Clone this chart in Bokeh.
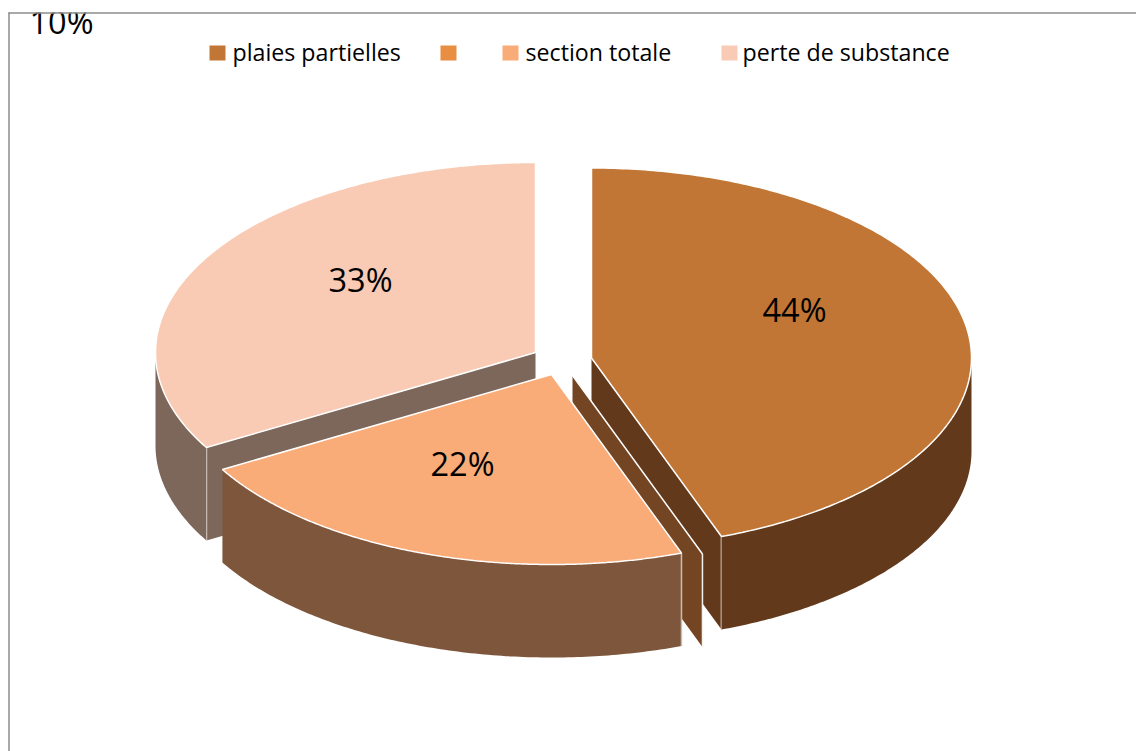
import numpy as np
from bokeh.plotting import figure
from bokeh.embed import file_html
from bokeh.resources import INLINE
from bokeh.core.properties import value

# ---- data ----
categories = ["plaies partielles", "", "section totale", "perte de substance"]
values = [44, 0, 22, 33]
labels = ["44%", "10%", "22%", "33%"]
top_colors = ["#C27635", "#E88E42", "#F9AB78", "#F9CBB5"]
wall_colors = ["#63391C", "#744522", "#7D563B", "#7C675A"]

# ---- layout ----
W, H = 1136, 751
RX, RY, DEPTH = 380, 190, 93
apex = [(591, 357.5), (572, 375), (551, 374), (535, 352)]
label_xy = [(794, 309), (61, 21), (462, 463), (360, 279)]
legend_sq_x = [209, 440, 502, 721]
legend_tx_x = [232, None, 525, 742]
draw_order = [3, 0, 1, 2]
SANS = "Open Sans"

p = figure(width=W, height=H, x_range=(0, W), y_range=(H, 0),
           output_backend="svg", toolbar_location=None, min_border=0,
           outline_line_color=None, background_fill_color="white")
p.axis.visible = False
p.grid.visible = False

total = sum(values)
cum = np.cumsum([0] + values) / total * 2 * np.pi


def ell(c, t):
    return c[0] + RX * np.sin(t), c[1] - RY * np.cos(t)


for i in draw_order:
    c = apex[i]
    t0, t1 = cum[i], cum[i + 1]
    wall, top = wall_colors[i], top_colors[i]
    # radial walls that face the viewer
    for t, visible in ((t1, 0 < t1 < np.pi), (t0, np.pi < t0 < 2 * np.pi)):
        if visible:
            ex, ey = ell(c, t)
            p.patch([c[0], ex, ex, c[0]], [c[1], ey, ey + DEPTH, c[1] + DEPTH],
                    fill_color=wall, line_color=None)
            p.line([ex, ex], [ey, ey + DEPTH], line_color="#F4F0EC", line_width=1.5)
    # rim
    a0, a1 = max(t0, np.pi / 2), min(t1, 1.5 * np.pi)
    if a1 > a0:
        tt = np.linspace(a0, a1, 120)
        x, y = ell(c, tt)
        p.patch(np.r_[x, x[::-1]], np.r_[y, y[::-1] + DEPTH], fill_color=wall, line_color=None)
        if i == 2:
            p.line([x[0], x[0]], [y[0], y[0] + DEPTH], line_color="#C8BEB6", line_width=1.5)
    # top face
    tt = np.linspace(t0, t1, 240)
    x, y = ell(c, tt)
    p.patch(np.r_[c[0], x], np.r_[c[1], y], fill_color=top, line_color="white", line_width=1.5)

# labels
for lab, (lx, ly) in zip(labels, label_xy):
    p.text([lx], [ly], text=[lab], text_font=value(SANS), text_font_size="32.5px",
           text_color="black", text_align="center", text_baseline="middle")

# mask above the frame line, which crops the stray label
p.quad(left=[0], right=[W], top=[0], bottom=[12], fill_color="white", line_color=None)
p.line([8, W], [12.5, 12.5], line_color="#8C8C8C", line_width=1.5)
p.line([8.5, 8.5], [12, H], line_color="#8C8C8C", line_width=1.5)

# legend
for name, col, sx, tx in zip(categories, top_colors, legend_sq_x, legend_tx_x):
    p.quad(left=[sx], right=[sx + 16], top=[45], bottom=[60], fill_color=col, line_color=None)
    if name:
        p.text([tx], [51.5], text=[name], text_font=value(SANS), text_font_size="23.2px",
               text_color="black", text_align="left", text_baseline="middle")

open("out.html", "w").write(file_html(p, INLINE))
